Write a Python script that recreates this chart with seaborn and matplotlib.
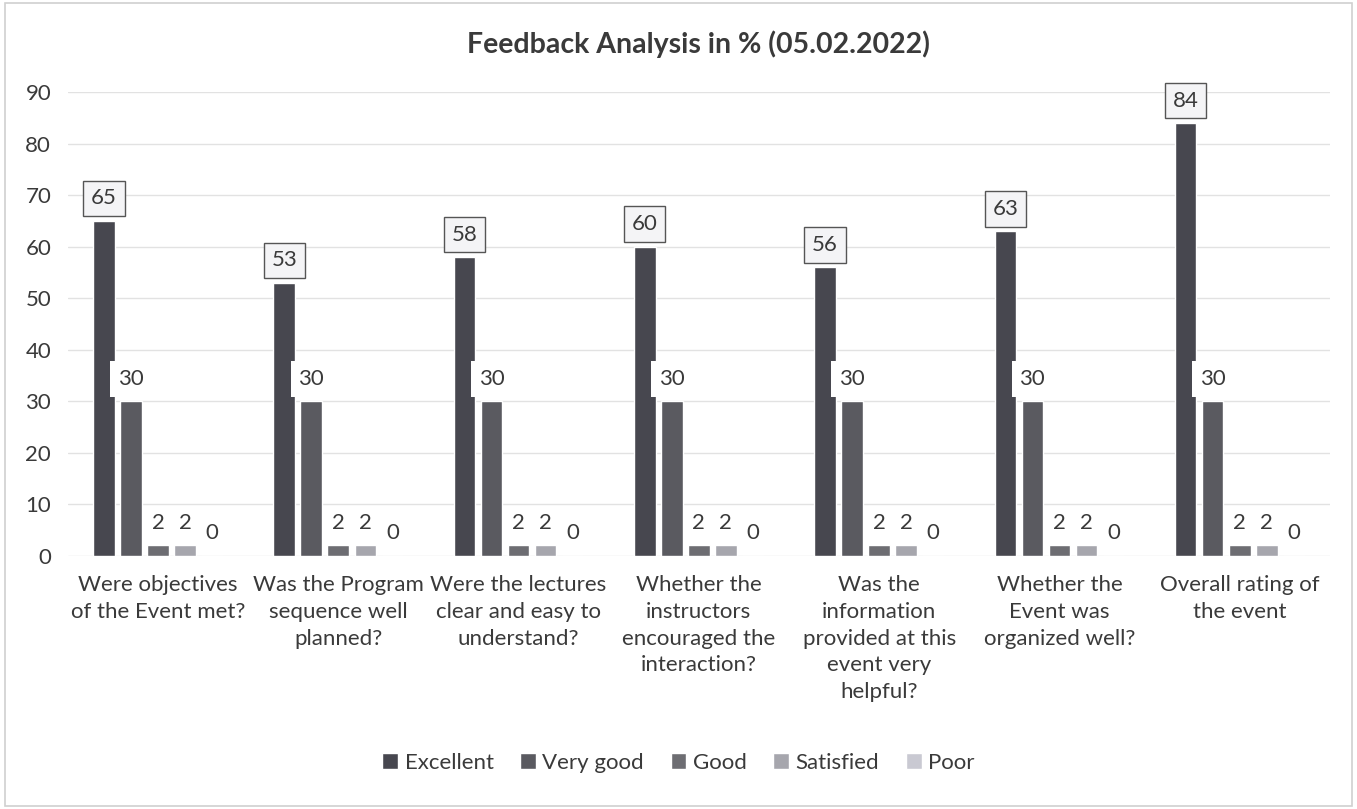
import matplotlib
matplotlib.use("Agg")
import matplotlib.pyplot as plt
import seaborn as sns
import pandas as pd

questions = [
    "Were objectives\nof the Event met?",
    "Was the Program\nsequence well\nplanned?",
    "Were the lectures\nclear and easy to\nunderstand?",
    "Whether the\ninstructors\nencouraged the\ninteraction?",
    "Was the\ninformation\nprovided at this\nevent very\nhelpful?",
    "Whether the\nEvent was\norganized well?",
    "Overall rating of\nthe event",
]
ratings = ["Excellent", "Very good", "Good", "Satisfied", "Poor"]
excellent = [65, 53, 58, 60, 56, 63, 84]
very_good = [30, 30, 30, 30, 30, 30, 30]
good = [2, 2, 2, 2, 2, 2, 2]
satisfied = [2, 2, 2, 2, 2, 2, 2]
poor = [0, 0, 0, 0, 0, 0, 0]

series = [excellent, very_good, good, satisfied, poor]
rows = []
for rating, vals in zip(ratings, series):
    for q, v in zip(questions, vals):
        rows.append({"Question": q, "Rating": rating, "Percent": v})
df = pd.DataFrame(rows)

sns.set_theme(style="white")
plt.rcParams["font.family"] = ["Lato", "DejaVu Sans"]
text_color = "#3a3a3a"
fs = 16

palette = ["#47474f", "#5a5a60", "#6d6d72", "#a6a6ad", "#c9c9d2"]

fig = plt.figure(figsize=(13.57, 8.09), dpi=100)
ax = fig.add_axes([0.05, 0.313, 0.93, 0.573])

sns.barplot(data=df, x="Question", y="Percent", hue="Rating",
            hue_order=ratings, order=questions, palette=palette,
            width=0.75, gap=0.2, saturation=1, ax=ax, legend=True)

ax.set_ylim(0, 90)
ax.set_yticks(range(0, 91, 10))
ax.yaxis.grid(True, color="#e2e2e2", linewidth=1)
ax.set_axisbelow(True)
for s in ax.spines.values():
    s.set_visible(False)
ax.set_xlabel("")
ax.set_ylabel("")
ax.tick_params(axis="both", length=0, labelsize=fs, colors=text_color, pad=12)
ax.tick_params(axis="x", pad=14)
for lbl in ax.get_xticklabels():
    lbl.set_linespacing(1.42)
    lbl.set_verticalalignment("top")

# Value labels above every bar
for i, cont in enumerate(ax.containers):
    if i == 0:
        bbox = dict(boxstyle="square,pad=0.35", fc="#f4f4f6", ec="#555555", lw=1)
    elif i == 1:
        bbox = dict(boxstyle="square,pad=0.35", fc="white", ec="none")
    else:
        bbox = None
    ax.bar_label(cont, labels=[f"{v:.0f}" for v in cont.datavalues],
                 padding=9, fontsize=fs, color=text_color, bbox=bbox)

ax.set_title("Feedback Analysis in % (05.02.2022)", fontsize=20.5,
             fontweight="bold", color=text_color, pad=28)

handles, labels = ax.get_legend_handles_labels()
ax.legend_.remove()
fig.legend(handles, labels, loc="center", bbox_to_anchor=(0.5, 0.057),
           ncol=5, frameon=False, fontsize=fs, handlelength=0.7,
           handleheight=0.7, handletextpad=0.3, columnspacing=1.2,
           labelcolor=text_color)

border = plt.Rectangle((0.004, 0.004), 0.992, 0.992, transform=fig.transFigure,
                       fill=False, ec="#d0d0d0", lw=1.2)
fig.add_artist(border)

fig.savefig("out.png", dpi=100)
